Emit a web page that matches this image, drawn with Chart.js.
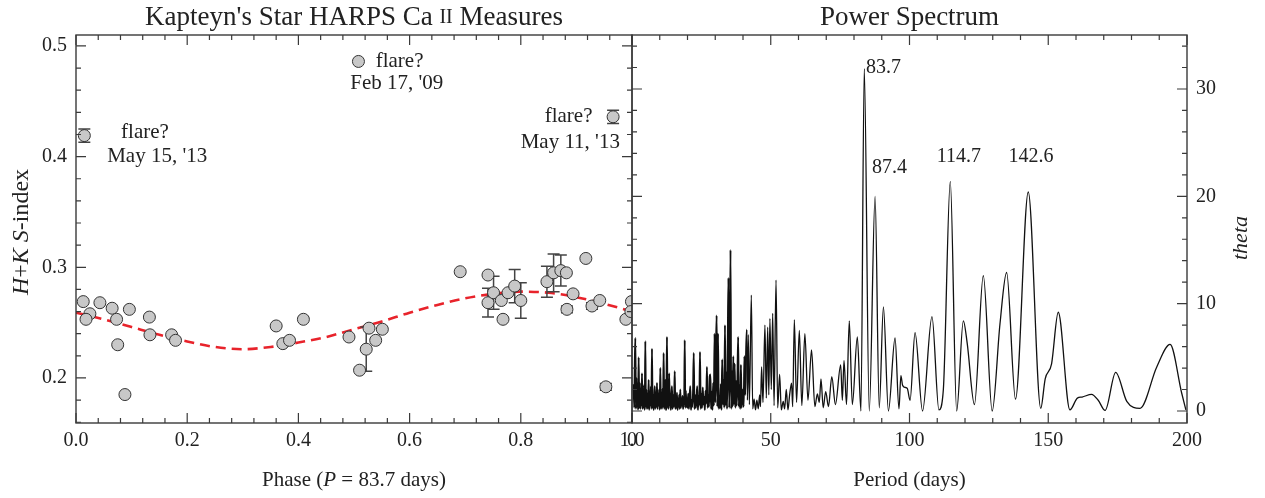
<!DOCTYPE html>
<html>
<head>
<meta charset="utf-8">
<title>Kapteyn's Star HARPS Ca II</title>
<script src="https://cdn.jsdelivr.net/npm/chart.js@4.4.0/dist/chart.umd.min.js"></script>
<style>
html, body { margin: 0; padding: 0; background: #fff; }
#wrap { position: relative; width: 1265px; height: 498px; }
#wrap canvas { position: absolute; left: 0; top: 0; }
</style>
</head>
<body>
<div id="wrap">
  <canvas id="phaseChart" width="1265" height="498"></canvas>
  <canvas id="powerChart" width="1265" height="498"></canvas>
</div>
<script>
// S-index measurements folded on P = 83.7 d (phase, value, error)
var phase = [0.013, 0.025, 0.018, 0.043, 0.065, 0.073, 0.096, 0.075, 0.088, 0.132, 0.133, 0.172, 0.179,
             0.360, 0.409, 0.372, 0.384, 0.491, 0.527, 0.522, 0.510, 0.539, 0.551,
             0.691, 0.741, 0.741, 0.751, 0.765, 0.768, 0.777, 0.789, 0.800, 0.847, 0.859, 0.872, 0.882,
             0.894, 0.883, 0.917, 0.928, 0.942, 0.953, 0.989, 0.999, 0.998,
             0.015, 0.508, 0.966];
var sIndex = [0.269, 0.258, 0.253, 0.268, 0.263, 0.253, 0.262, 0.230, 0.185, 0.255, 0.239, 0.239, 0.234,
              0.247, 0.253, 0.231, 0.234, 0.237, 0.245, 0.226, 0.207, 0.234, 0.244,
              0.296, 0.293, 0.268, 0.277, 0.270, 0.253, 0.277, 0.283, 0.270, 0.287, 0.295, 0.297, 0.295,
              0.276, 0.262, 0.308, 0.265, 0.270, 0.192, 0.253, 0.269, 0.260,
              0.419, 0.486, 0.436];
var sError = [0, 0, 0, 0, 0, 0, 0, 0, 0, 0, 0, 0, 0,
              0, 0, 0, 0, 0, 0, 0.020, 0, 0, 0,
              0, 0, 0.013, 0.015, 0, 0, 0, 0.015, 0.016, 0.014, 0.017, 0.014, 0,
              0, 0.003, 0, 0.003, 0, 0.003, 0, 0, 0,
              0.006, 0, 0.006];

// fitted curve
var fitPhase = [0, 0.05, 0.10, 0.15, 0.20, 0.25, 0.30, 0.35, 0.40, 0.45, 0.50,
                0.55, 0.60, 0.65, 0.70, 0.75, 0.80, 0.85, 0.90, 0.95, 1.00];
var fitS = [0.259, 0.253, 0.246, 0.239, 0.233, 0.228, 0.226, 0.228, 0.232, 0.237, 0.244,
            0.251, 0.259, 0.266, 0.272, 0.276, 0.278, 0.277, 0.273, 0.267, 0.260];

// power spectrum: short periods on a regular grid, the rest as read
var shortStart = 0.6, shortStep = 0.2;
var shortTheta = [2.5, 0.3, 4.2, 6.8, 0.2, 3.1, 0.4, 2.2, 0.1, 5.0,
                  0.3, 2.6, 0.2, 1.9, 0.5, 3.5, 0.2, 2.4, 0.3, 1.6,
                  0.1, 6.5, 0.4, 2.0, 0.2, 1.4, 0.3, 2.9, 0.1, 1.8,
                  0.5, 2.3, 0.2, 5.8, 0.3, 1.5, 0.1, 1.2, 2.3, 0.2,
                  1.7, 0.4, 2.6, 0.2, 1.3, 0.5, 2.0, 0.1, 4.0, 0.3,
                  1.6, 0.2, 2.1, 0.4, 5.4, 0.2, 1.4, 2.9, 0.1, 1.1,
                  6.9, 0.3, 1.8, 0.2, 3.5, 0.5, 1.2, 0.1, 1.6, 2.3,
                  0.2, 1.5, 0.4, 1.0, 3.7, 0.2, 1.3, 0.3, 1.7, 0.1,
                  0.9, 0.4, 1.5, 0.2, 2.0, 0.3, 1.1, 0.5, 1.4, 0.2,
                  0.8, 0.6, 6.6, 0.3, 1.9, 0.4, 1.2];
var midStart = 20, midStep = 0.25;
var midTheta = [0.3, 1.6, 0.2, 1.2, 2.3, 0.1, 1.0, 0.4, 1.8, 5.4,
                0.2, 1.5, 0.3, 1.2, 2.3, 0.1, 1.4, 0.5, 5.5, 0.2,
                1.6, 0.3, 2.2, 0.6, 1.3, 0.1, 1.9, 0.7, 4.1, 0.3,
                1.5, 0.4, 3.2, 3.4, 0.2, 1.8, 0.1, 2.6, 0.5, 7.2,
                0.8, 5.3, 8.9, 0.4, 7.2, 0.2, 1.4, 0.3, 2.5, 0.1,
                4.8, 0.6, 2.9, 0.3, 8.0, 0.5, 3.6, 0.2, 6.0, 12.4,
                0.3, 4.2, 15.0, 0.2, 3.7, 0.4, 5.1, 0.6, 4.4, 0.3,
                2.8, 0.5, 3.0, 6.9, 0.4, 2.4, 0.2, 4.3, 0.3, 2.0];
var longPeriod = [40.25, 40.5, 40.8, 41.3, 41.6, 41.9, 42.3, 43.0, 43.5, 44.0,
                  44.5, 45.0, 45.5, 46.0, 46.3, 46.7, 47.2, 47.9, 48.4, 48.9,
                  49.3, 49.7, 50.2, 50.7, 51.2, 51.9, 52.5, 53.2, 53.8, 54.5,
                  55.0, 55.6, 56.2, 56.8, 57.5, 57.9, 58.5, 59.3, 60.3, 61.2,
                  62.3, 63.4, 64.7, 65.9, 66.8, 67.5, 68.1, 68.9, 69.8, 70.8,
                  72.0, 73.3, 75.2, 75.8, 76.4, 77.3, 78.3, 79.4, 81.2, 82.5,
                  83.7, 85.5, 87.6, 89.1, 90.6, 92.4, 94.8, 96.2, 96.9, 97.5,
                  98.4, 99.2, 100.2, 102.0, 104.7, 108.1, 110.6, 112.2, 114.7, 117.0,
                  119.4, 120.8, 123.4, 126.6, 129.8, 132.6, 135.0, 138.2, 142.8, 147.3,
                  148.9, 151.2, 153.6, 157.8, 160.5, 162.2, 165.6, 168.0, 170.5, 174.3,
                  178.3, 183.1, 189.1, 193.9, 198.1, 199.6];
var longTheta = [0.4, 5.1, 1.5, 7.6, 1.0, 7.1, 0.6, 10.8, 0.2, 1.1,
                 0.1, 1.0, 0.2, 1.5, 0.4, 4.1, 0.8, 8.0, 1.2, 7.8,
                 1.5, 8.6, 2.0, 9.1, 0.5, 12.2, 0.3, 3.4, 0.1, 0.9,
                 0.2, 2.0, 0.1, 1.5, 2.6, 0.4, 8.5, 0.8, 7.5, 0.5,
                 7.2, 1.0, 5.7, 0.4, 1.6, 0.8, 3.0, 0.3, 1.8, 0.4,
                 3.2, 0.6, 4.3, 1.0, 4.7, 0.6, 8.4, 0.6, 6.9, 0.0,
                 31.9, 0.0, 20.0, 0.3, 9.7, 0.0, 6.8, 0.2, 3.3, 2.4,
                 2.2, 2.1, 1.0, 7.3, 0.0, 8.8, 0.1, 2.0, 21.4, 0.0,
                 8.4, 6.3, 0.6, 12.6, 0.0, 8.1, 12.9, 1.1, 20.4, 0.25,
                 3.0, 4.4, 9.2, 0.1, 1.2, 1.3, 1.55, 1.0, 0.05, 3.6,
                 0.9, 0.25, 4.1, 6.2, 1.65, 0.1];

var peakLabels = ['83.7', '87.4', '114.7', '142.6'];
var peakLabelAt = [[90.6, 32.0], [92.8, 22.7], [117.8, 23.7], [143.8, 23.7]];

var phaseTicks = [0, 0.2, 0.4, 0.6, 0.8, 1.0];
var sTicks = [0.2, 0.3, 0.4, 0.5];
var periodTicks = [0, 50, 100, 150, 200];
var thetaTicks = [0, 10, 20, 30];

var notes = [
  ['flare?', 0.124, 0.4214], ["May 15, '13", 0.146, 0.3997],
  ['flare?', 0.582, 0.4864], ["Feb 17, '09", 0.577, 0.4657],
  ['flare?', 0.886, 0.4359], ["May 11, '13", 0.889, 0.4124]
];

var serif = '"Liberation Serif", "Times New Roman", serif';
var ink = '#222';
function font(size, style) { return (style ? style + ' ' : '') + size + 'px ' + serif; }

Chart.defaults.font.family = serif;
Chart.defaults.color = ink;

// text made of runs with different fonts (italic symbols, small caps)
function drawRich(ctx, segs, x, y, align) {
  var total = 0;
  segs.forEach(function (s) { ctx.font = s[1]; total += ctx.measureText(s[0]).width; });
  var cx = align === 'center' ? x - total / 2 : (align === 'right' ? x - total : x);
  ctx.textAlign = 'left';
  ctx.textBaseline = 'middle';
  segs.forEach(function (s) {
    ctx.font = s[1];
    ctx.fillText(s[0], cx, y);
    cx += ctx.measureText(s[0]).width;
  });
}

function eachTick(t, fn) {
  var n = Math.round((t.to - t.from) / t.minor);
  for (var i = 0; i <= n; i++) {
    var v = t.from + i * t.minor;
    var r = v / t.major;
    fn(v, Math.abs(r - Math.round(r)) < 1e-6 ? 10 : 5);
  }
}

// box frame with inward ticks on all four sides
var frameTicks = {
  id: 'frameTicks',
  afterDraw: function (chart, args, o) {
    var ctx = chart.ctx, a = chart.chartArea;
    var xs = chart.scales.x, ys = chart.scales.y;
    ctx.save();
    ctx.strokeStyle = '#3a3a3a';
    ctx.lineWidth = 1.4;
    ctx.strokeRect(a.left, a.top, a.right - a.left, a.bottom - a.top);
    ctx.lineWidth = 1.2;
    ctx.beginPath();
    eachTick(o.x, function (v, len) {
      var px = xs.getPixelForValue(v);
      ctx.moveTo(px, a.bottom); ctx.lineTo(px, a.bottom - len);
      ctx.moveTo(px, a.top); ctx.lineTo(px, a.top + len);
    });
    eachTick(o.y, function (v, len) {
      var py = ys.getPixelForValue(v);
      ctx.moveTo(a.left, py); ctx.lineTo(a.left + len, py);
      ctx.moveTo(a.right, py); ctx.lineTo(a.right - len, py);
    });
    ctx.stroke();
    ctx.restore();
  }
};

// error bars, drawn just before the points
var errorBars = {
  id: 'errorBars',
  beforeDatasetDraw: function (chart, args) {
    if (args.index !== 0) return;
    var ctx = chart.ctx, xs = chart.scales.x, ys = chart.scales.y, a = chart.chartArea;
    ctx.save();
    ctx.beginPath();
    ctx.rect(a.left, a.top, a.right - a.left, a.bottom - a.top);
    ctx.clip();
    ctx.strokeStyle = '#444';
    ctx.lineWidth = 1.5;
    ctx.beginPath();
    phase.forEach(function (p, i) {
      if (!sError[i]) return;
      var px = xs.getPixelForValue(p);
      var top = ys.getPixelForValue(sIndex[i] + sError[i]);
      var bot = ys.getPixelForValue(sIndex[i] - sError[i]);
      ctx.moveTo(px, top); ctx.lineTo(px, bot);
      ctx.moveTo(px - 6, top); ctx.lineTo(px + 6, top);
      ctx.moveTo(px - 6, bot); ctx.lineTo(px + 6, bot);
    });
    ctx.stroke();
    ctx.restore();
  }
};

var phaseText = {
  id: 'phaseText',
  afterDraw: function (chart) {
    var ctx = chart.ctx, a = chart.chartArea, xs = chart.scales.x, ys = chart.scales.y;
    ctx.save();
    ctx.fillStyle = ink;
    drawRich(ctx, [["Kapteyn's Star HARPS Ca ", font(27)], ['II', font(20)], [' Measures', font(27)]],
      (a.left + a.right) / 2, 18, 'center');
    drawRich(ctx, [['Phase (', font(21)], ['P', font(21, 'italic')], [' = 83.7 days)', font(21)]],
      (a.left + a.right) / 2, 480, 'center');
    notes.forEach(function (n) {
      drawRich(ctx, [[n[0], font(21)]], xs.getPixelForValue(n[1]), ys.getPixelForValue(n[2]), 'center');
    });
    ctx.translate(22, 232);
    ctx.rotate(-Math.PI / 2);
    drawRich(ctx, [['H', font(24, 'italic')], ['+', font(24)], ['K', font(24, 'italic')], [' ', font(24)],
      ['S', font(24, 'italic')], ['-index', font(24)]], 0, 0, 'center');
    ctx.restore();
  }
};

var powerText = {
  id: 'powerText',
  afterDraw: function (chart) {
    var ctx = chart.ctx, a = chart.chartArea, xs = chart.scales.x, ys = chart.scales.y;
    ctx.save();
    ctx.fillStyle = ink;
    drawRich(ctx, [['Power Spectrum', font(27)]], (a.left + a.right) / 2, 18, 'center');
    drawRich(ctx, [['Period (days)', font(21)]], (a.left + a.right) / 2, 480, 'center');
    peakLabels.forEach(function (t, i) {
      drawRich(ctx, [[t, font(20)]], xs.getPixelForValue(peakLabelAt[i][0]), ys.getPixelForValue(peakLabelAt[i][1]), 'center');
    });
    ctx.translate(1241, 238);
    ctx.rotate(-Math.PI / 2);
    drawRich(ctx, [['theta', font(22, 'italic')]], 0, 0, 'center');
    ctx.restore();
  }
};

function fixedTicks(list) {
  return function (scale) { scale.ticks = list.map(function (v) { return { value: v }; }); };
}

var points = phase.map(function (p, i) { return { x: p, y: sIndex[i] }; });
var fit = fitPhase.map(function (p, i) { return { x: p, y: fitS[i] }; });

var spectrum = [];
shortTheta.forEach(function (t, i) { spectrum.push({ x: shortStart + i * shortStep, y: t }); });
midTheta.forEach(function (t, i) { spectrum.push({ x: midStart + i * midStep, y: t }); });
longPeriod.forEach(function (p, i) { spectrum.push({ x: p, y: longTheta[i] }); });

var tickFont = { size: 20, family: serif };

new Chart(document.getElementById('phaseChart').getContext('2d'), {
  type: 'scatter',
  data: {
    datasets: [{
      label: 'S-index',
      data: points,
      pointRadius: 6,
      pointBackgroundColor: '#c8c8c8',
      pointBorderColor: '#333',
      pointBorderWidth: 1
    }, {
      label: 'fit',
      data: fit,
      showLine: true,
      pointRadius: 0,
      borderColor: '#e8232b',
      borderWidth: 2.6,
      borderDash: [10, 6],
      cubicInterpolationMode: 'monotone'
    }]
  },
  options: {
    responsive: false,
    animation: false,
    events: [],
    layout: { padding: { left: 0, right: 633, top: 35, bottom: 0 } },
    scales: {
      x: {
        type: 'linear', min: 0, max: 1,
        grid: { display: false, drawTicks: false },
        border: { display: false },
        ticks: { font: tickFont, color: ink, padding: 6, maxRotation: 0,
                 callback: function (v) { return v.toFixed(1); } },
        afterBuildTicks: fixedTicks(phaseTicks),
        afterFit: function (s) { s.height = 75; }
      },
      y: {
        type: 'linear', min: 0.1593, max: 0.5099,
        grid: { display: false, drawTicks: false },
        border: { display: false },
        ticks: { font: tickFont, color: ink, padding: 9,
                 callback: function (v) { return v.toFixed(1); } },
        afterBuildTicks: fixedTicks(sTicks),
        afterFit: function (s) { s.width = 76; }
      }
    },
    plugins: {
      legend: { display: false },
      tooltip: { enabled: false },
      frameTicks: { x: { from: 0, to: 1, minor: 0.04, major: 0.2 }, y: { from: 0.16, to: 0.5, minor: 0.02, major: 0.1 } }
    }
  },
  plugins: [errorBars, frameTicks, phaseText]
});

new Chart(document.getElementById('powerChart').getContext('2d'), {
  type: 'scatter',
  data: {
    datasets: [{
      label: 'theta',
      data: spectrum,
      showLine: true,
      pointRadius: 0,
      borderColor: '#111',
      borderWidth: 1.3,
      cubicInterpolationMode: 'monotone',
      segment: {
        // the crowded short-period part prints as a heavier band
        borderWidth: function (c) { return c.p0.parsed.x < 41 ? 1.9 : 1.3; }
      }
    }]
  },
  options: {
    responsive: false,
    animation: false,
    events: [],
    layout: { padding: { left: 632, right: 0, top: 35, bottom: 0 } },
    scales: {
      x: {
        type: 'linear', min: 0, max: 200,
        grid: { display: false, drawTicks: false },
        border: { display: false },
        ticks: { font: tickFont, color: ink, padding: 6, maxRotation: 0 },
        afterBuildTicks: fixedTicks(periodTicks),
        afterFit: function (s) { s.height = 75; }
      },
      y: {
        type: 'linear', position: 'right', min: -1.12, max: 35.03,
        grid: { display: false, drawTicks: false },
        border: { display: false },
        ticks: { font: tickFont, color: ink, padding: 9 },
        afterBuildTicks: fixedTicks(thetaTicks),
        afterFit: function (s) { s.width = 78; }
      }
    },
    plugins: {
      legend: { display: false },
      tooltip: { enabled: false },
      frameTicks: { x: { from: 0, to: 200, minor: 10, major: 50 }, y: { from: 0, to: 34, minor: 2, major: 10 } }
    }
  },
  plugins: [frameTicks, powerText]
});
</script>
</body>
</html>
